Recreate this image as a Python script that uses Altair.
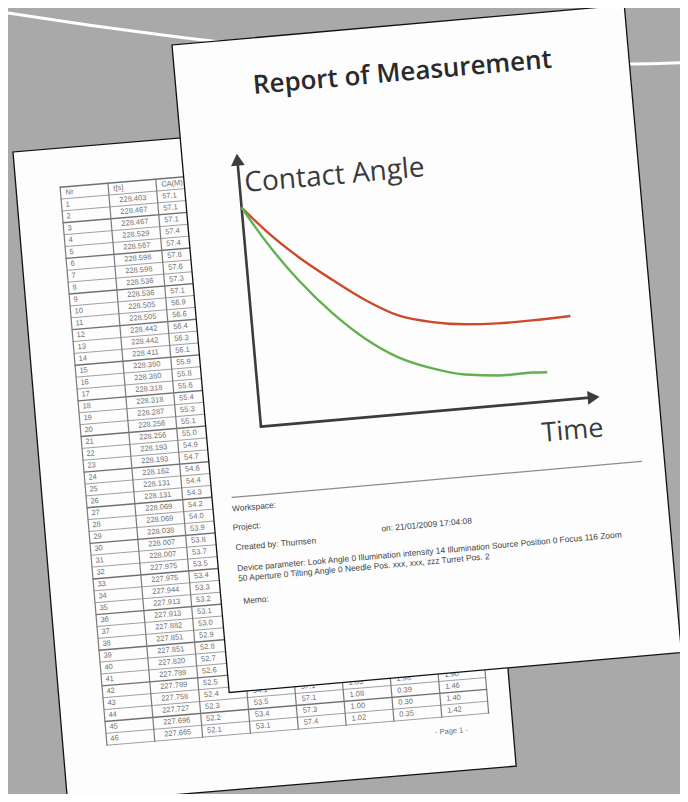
import math
import altair as alt
import pandas as pd

# ---------------- values ----------------
# small chart on the front page (units = px along the drawn axes)
red_time = [0, 21, 52, 84, 115, 146, 180, 212, 245, 279, 318]
red_angle = [220, 196, 166, 140, 117, 99, 89, 84, 82, 82, 83]
green_time = [0, 20, 50, 81, 111, 143, 176, 208, 241, 275, 290]
green_angle = [220, 186, 143, 107, 79, 57, 43, 34, 30, 30, 29]

title_text = "Report of Measurement"
y_label = "Contact Angle"
x_label = "Time"
info_lines = [
    "Workspace:",
    "Project:",
    "Created by: Thurnsen",
    "on: 21/01/2009 17:04:08",
    "Device parameter: Look Angle 0 Illumination intensity 14 Illumination Source Position 0 Focus 116 Zoom",
    "50 Aperture 0 Tilting Angle 0 Needle Pos. xxx, xxx, zzz Turret Pos. 2",
    "Memo:",
]

# table on the back page
table_header = ["Nr", "t[s]", "CA(M)"]
table_time = ["228.403", "228.467", "228.467", "228.529", "228.567", "228.598",
              "228.598", "228.536", "228.536", "228.505", "228.505", "228.442",
              "228.442", "228.411", "228.380", "228.380", "228.318", "228.318",
              "228.287", "228.256", "228.256", "228.193", "228.193", "228.162",
              "228.131", "228.131", "228.069", "228.069", "228.038", "228.007",
              "228.007", "227.975", "227.975", "227.944", "227.913", "227.913",
              "227.882", "227.851", "227.851", "227.820", "227.789", "227.789",
              "227.758", "227.727", "227.696", "227.665"]
table_ca = ["57.1", "57.1", "57.1", "57.4", "57.4", "57.8", "57.6", "57.3",
            "57.1", "56.9", "56.6", "56.4", "56.3", "56.1", "55.9", "55.8",
            "55.6", "55.4", "55.3", "55.1", "55.0", "54.9", "54.7", "54.6",
            "54.4", "54.3", "54.2", "54.0", "53.9", "53.8", "53.7", "53.5",
            "53.4", "53.3", "53.2", "53.1", "53.0", "52.9", "52.8", "52.7",
            "52.6", "52.5", "52.4", "52.3", "52.2", "52.1"]
tail_cols = [
    ["54.1", "53.5", "53.4", "53.1"],
    ["57.1", "57.1", "57.3", "57.4"],
    ["1.05", "1.08", "1.00", "1.02"],
    ["1.98", "0.39", "0.30", "0.35"],
    ["1.90", "1.46", "1.40", "1.42"],
]
page_footer = "- Page 1 -"

# white line in the background (image px)
wave_x = [8, 88, 140, 212, 420, 631, 688]
wave_y = [13, 25, 32, 41, 58, 64, 62.5]

# ---------------- layout (page frames in image px) ----------------
FRONT = dict(x0=172, y0=45, w=454, h=650, deg=5.05)
BACK = dict(x0=13, y0=152, w=450, h=654, deg=4.8)


def to_img(p, u, v):
    r = math.radians(p["deg"])
    c, s = math.cos(r), math.sin(r)
    return p["x0"] + u * c + v * s, p["y0"] - u * s + v * c


CH_U0, CH_V0 = 55, 388


def chart_pt(t, a):
    return to_img(FRONT, CH_U0 + t, CH_V0 - a)


xs = alt.Scale(domain=[8, 680], range=[0, 672], nice=False, zero=False)
ys = alt.Scale(domain=[8, 794], range=[0, 786], nice=False, zero=False)


def XY():
    return dict(x=alt.X("x:Q", scale=xs, axis=None), y=alt.Y("y:Q", scale=ys, axis=None))


def rule_layer(rows):
    df = pd.DataFrame(rows)
    return alt.Chart(df).mark_rule(strokeCap="round").encode(
        **XY(), x2="x2:Q", y2="y2:Q",
        color=alt.Color("c:N", scale=None),
        size=alt.Size("w:Q", scale=None),
    )


def text_layer(rows, angle, font, weight="normal", align="left", baseline="middle"):
    df = pd.DataFrame(rows)
    return alt.Chart(df).mark_text(angle=angle, font=font, fontWeight=weight,
                                   align=align, baseline=baseline, opacity=0.96).encode(
        **XY(), text="t:N",
        size=alt.Size("s:Q", scale=None),
        color=alt.Color("c:N", scale=None),
    )


def page_layer(p):
    cx, cy = to_img(p, p["w"] / 2, p["h"] / 2)
    r = p["w"] / p["h"]
    path = f"M{-r:.4f},-1L{r:.4f},-1L{r:.4f},1L{-r:.4f},1Z"
    df = pd.DataFrame({"x": [cx], "y": [cy]})
    return alt.Chart(df).mark_point(
        shape=path, size=p["h"] ** 2, angle=360 - p["deg"], filled=True,
        fill="#fdfdfd", stroke="#111111", strokeWidth=1.3, opacity=1,
    ).encode(**XY())


# ---- background wave
wave = alt.Chart(pd.DataFrame({"x": wave_x, "y": wave_y, "i": list(range(len(wave_x)))})).mark_line(
    color="#ffffff", strokeWidth=3, interpolate="monotone").encode(**XY(), order="i:Q")

# ---- back page table
T_U = [44, 92, 140, 188, 236, 284, 332, 380, 427]
T_V0, T_V1 = 39, 599
n_rows = 1 + len(table_time)
rh = (T_V1 - T_V0) / n_rows
trules = []
for k in range(n_rows + 1):
    v = T_V0 + k * rh
    (x, y), (x2, y2) = to_img(BACK, T_U[0], v), to_img(BACK, T_U[-1], v)
    dark = (k % 3 == 0)
    trules.append(dict(x=x, y=y, x2=x2, y2=y2, c="#707070" if dark else "#a0a0a0", w=1.4 if dark else 1.0))
for u in T_U:
    (x, y), (x2, y2) = to_img(BACK, u, T_V0), to_img(BACK, u, T_V1)
    trules.append(dict(x=x, y=y, x2=x2, y2=y2, c="#7a7a7a", w=1.2))

TC = "#6a6a6a"
ttexts = []
ang_b = 360 - BACK["deg"]
for j, h in enumerate(table_header):
    x, y = to_img(BACK, T_U[j] + 5, T_V0 + rh / 2)
    ttexts.append(dict(x=x, y=y, t=h, s=7.5, c=TC))
for k in range(1, n_rows):
    vm = T_V0 + (k + 0.5) * rh
    x, y = to_img(BACK, T_U[0] + 4, vm)
    ttexts.append(dict(x=x, y=y, t=str(k), s=7.5, c=TC))
    x, y = to_img(BACK, T_U[1] + 10, vm)
    ttexts.append(dict(x=x, y=y, t=table_time[k - 1], s=7.5, c=TC))
    x, y = to_img(BACK, T_U[2] + 5, vm)
    ttexts.append(dict(x=x, y=y, t=table_ca[k - 1], s=7.5, c=TC))
n_tail = len(tail_cols[0])
for j, col in enumerate(tail_cols):
    for r, val in enumerate(col):
        k = n_rows - n_tail + r
        vm = T_V0 + (k + 0.5) * rh
        x, y = to_img(BACK, T_U[3 + j] + 6, vm)
        ttexts.append(dict(x=x, y=y, t=val, s=7.5, c=TC))
fx, fy = to_img(BACK, 372, 614)
ttexts.append(dict(x=fx, y=fy, t=page_footer, s=7.5, c=TC))

# ---- front page chart
ang_f = 360 - FRONT["deg"]
frules = []
(x, y), (x2, y2) = chart_pt(0, 0), chart_pt(0, 264)
frules.append(dict(x=x, y=y, x2=x2, y2=y2, c="#3c3c3c", w=2.6))
(x, y), (x2, y2) = chart_pt(0, 0), chart_pt(330, 0)
frules.append(dict(x=x, y=y, x2=x2, y2=y2, c="#3c3c3c", w=2.6))
(x, y), (x2, y2) = to_img(FRONT, 20, 456), to_img(FRONT, 431, 456)
frules.append(dict(x=x, y=y, x2=x2, y2=y2, c="#8c8c8c", w=1.2))

ax_up = pd.DataFrame([dict(zip(("x", "y"), chart_pt(0, 268)))])
ax_rt = pd.DataFrame([dict(zip(("x", "y"), chart_pt(334, 0)))])
head_up = alt.Chart(ax_up).mark_point(shape="triangle-up", size=190, angle=ang_f, filled=True,
                                      color="#3c3c3c", opacity=1).encode(**XY())
head_rt = alt.Chart(ax_rt).mark_point(shape="triangle-right", size=190, angle=ang_f, filled=True,
                                      color="#3c3c3c", opacity=1).encode(**XY())

crow = []
for name, ts, avs in (("Red", red_time, red_angle), ("Green", green_time, green_angle)):
    for i, (t, a) in enumerate(zip(ts, avs)):
        x, y = chart_pt(t, a)
        crow.append(dict(series=name, i=i, x=x, y=y))
curves = alt.Chart(pd.DataFrame(crow)).mark_line(strokeWidth=2.4, interpolate="monotone").encode(
    **XY(), detail="series:N", order="i:Q",
    color=alt.Color("series:N", scale=alt.Scale(domain=["Red", "Green"], range=["#cc4a2a", "#62b04e"]),
                    legend=None),
)

x, y = to_img(FRONT, 227, 48)
title_l = text_layer([dict(x=x, y=y, t=title_text, s=26, c="#222222")], ang_f, "Open Sans", 600, "center", "middle")
x, y = to_img(FRONT, 60, 153)
ylab_l = text_layer([dict(x=x, y=y, t=y_label, s=28, c="#333333")], ang_f, "Open Sans", "normal", "left", "alphabetic")
x, y = to_img(FRONT, 396, 428)
xlab_l = text_layer([dict(x=x, y=y, t=x_label, s=27, c="#333333")], ang_f, "Open Sans", "normal", "right", "alphabetic")

info_pos = [(19, 467), (18, 486), (19, 506), (166, 500), (19, 527), (19, 537), (22, 560)]
irows = []
for txt, (u, v) in zip(info_lines, info_pos):
    x, y = to_img(FRONT, u, v)
    irows.append(dict(x=x, y=y, t=txt, s=8.4, c="#3a3a3a"))
info_l = text_layer(irows, ang_f, "Liberation Sans", "normal", "left", "middle")

chart = alt.layer(
    wave,
    page_layer(BACK),
    rule_layer(trules),
    text_layer(ttexts, ang_b, "Liberation Sans", "normal", "left", "middle"),
    page_layer(FRONT),
    rule_layer(frules),
    head_up, head_rt,
    curves,
    title_l, ylab_l, xlab_l, info_l,
).properties(
    width=672, height=786, background="#a9a9a9", padding=0,
    autosize=alt.AutoSizeParams(type="none"),
).configure_view(stroke=None)

chart.save("out.html", embed_options={"renderer": "svg", "actions": False})
